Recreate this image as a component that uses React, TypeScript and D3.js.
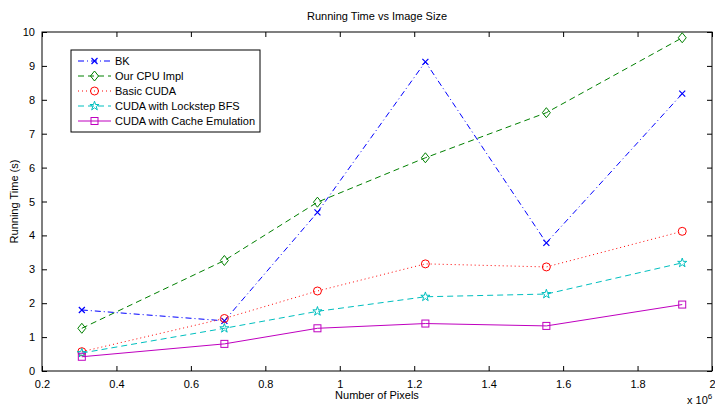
import React, { useRef, useEffect } from "react";
import * as d3 from "d3";

// x values in units of 1e6 pixels
const pixels = [0.307, 0.69, 0.94, 1.23, 1.555, 1.92];
const bk = [1.8, 1.48, 4.68, 9.12, 3.78, 8.18];
const cpuImpl = [1.26, 3.26, 4.98, 6.29, 7.62, 9.83];
const basicCuda = [0.57, 1.55, 2.36, 3.16, 3.07, 4.12];
const lockstep = [0.53, 1.26, 1.76, 2.19, 2.27, 3.19];
const cacheEmu = [0.42, 0.8, 1.26, 1.4, 1.33, 1.96];

const xTicks = [0.2, 0.4, 0.6, 0.8, 1, 1.2, 1.4, 1.6, 1.8, 2];
const yTicks = [0, 1, 2, 3, 4, 5, 6, 7, 8, 9, 10];

const seriesList = [
  { name: "BK", values: bk, color: "#0000ff", dash: "6,3,1,3", marker: "x" },
  { name: "Our CPU Impl", values: cpuImpl, color: "#008000", dash: "6,4", marker: "diamond" },
  { name: "Basic CUDA", values: basicCuda, color: "#ff0000", dash: "1,3", marker: "circle" },
  { name: "CUDA with Lockstep BFS", values: lockstep, color: "#00bfbf", dash: "6,4", marker: "star" },
  { name: "CUDA with Cache Emulation", values: cacheEmu, color: "#bf00bf", dash: null, marker: "square" },
];

function drawMarker(g, type, cx, cy, color) {
  if (type === "x") {
    g.append("path")
      .attr("d", `M${cx - 3},${cy - 3}L${cx + 3},${cy + 3}M${cx - 3},${cy + 3}L${cx + 3},${cy - 3}`)
      .attr("stroke", color).attr("stroke-width", 1.2).attr("fill", "none");
  } else if (type === "diamond") {
    g.append("path")
      .attr("d", `M${cx},${cy - 5}L${cx + 4},${cy}L${cx},${cy + 5}L${cx - 4},${cy}Z`)
      .attr("stroke", color).attr("stroke-width", 1).attr("fill", "none");
  } else if (type === "circle") {
    g.append("circle").attr("cx", cx).attr("cy", cy).attr("r", 4)
      .attr("stroke", color).attr("stroke-width", 1).attr("fill", "none");
  } else if (type === "star") {
    g.append("path")
      .attr("d", d3.symbol(d3.symbolStar, 26)())
      .attr("transform", `translate(${cx},${cy})`)
      .attr("stroke", color).attr("stroke-width", 1).attr("fill", "none");
  } else if (type === "square") {
    g.append("rect").attr("x", cx - 3.5).attr("y", cy - 3.5).attr("width", 7).attr("height", 7)
      .attr("stroke", color).attr("stroke-width", 1).attr("fill", "none");
  }
}

function App() {
  const svgRef = useRef(null);

  useEffect(() => {
    const width = 715;
    const height = 406;
    const margin = { top: 32, right: 3, bottom: 35, left: 42 };
    const font = "'Liberation Sans', Arial, sans-serif";

    const svg = d3.select(svgRef.current);
    svg.selectAll("*").remove();

    const x = d3.scaleLinear().domain([0.2, 2]).range([margin.left, width - margin.right]);
    const y = d3.scaleLinear().domain([0, 10]).range([height - margin.bottom, margin.top]);

    svg.append("rect").attr("width", width).attr("height", height).attr("fill", "white");

    // Axes (MATLAB style: ticks inside, box)
    const fmt = (d) => d3.format("~g")(d);
    svg.append("g")
      .attr("transform", `translate(0,${y(0)})`)
      .call(d3.axisBottom(x).tickValues(xTicks).tickSize(-5).tickPadding(9).tickFormat(fmt))
      .call((g) => g.select(".domain").remove());
    svg.append("g")
      .attr("transform", `translate(0,${y(10)})`)
      .call(d3.axisTop(x).tickValues(xTicks).tickSize(-5).tickFormat(() => ""))
      .call((g) => g.select(".domain").remove());
    svg.append("g")
      .attr("transform", `translate(${x(0.2)},0)`)
      .call(d3.axisLeft(y).tickValues(yTicks).tickSize(-5).tickPadding(7))
      .call((g) => g.select(".domain").remove());
    svg.append("g")
      .attr("transform", `translate(${x(2)},0)`)
      .call(d3.axisRight(y).tickValues(yTicks).tickSize(-5).tickFormat(() => ""))
      .call((g) => g.select(".domain").remove());

    svg.selectAll(".tick line").attr("stroke", "#000").attr("stroke-width", 1);
    svg.selectAll(".tick text").attr("font-family", font).attr("font-size", 11).attr("fill", "#000");

    svg.append("rect")
      .attr("x", x(0.2)).attr("y", y(10))
      .attr("width", x(2) - x(0.2)).attr("height", y(0) - y(10))
      .attr("fill", "none").attr("stroke", "#000").attr("stroke-width", 1);

    // Series
    const line = d3.line().x((d) => x(d[0])).y((d) => y(d[1]));
    seriesList.forEach((s) => {
      const pts = pixels.map((p, i) => [p, s.values[i]]);
      svg.append("path")
        .datum(pts)
        .attr("d", line)
        .attr("fill", "none")
        .attr("stroke", s.color)
        .attr("stroke-width", 1)
        .attr("stroke-dasharray", s.dash);
      const mg = svg.append("g");
      pts.forEach((p) => drawMarker(mg, s.marker, x(p[0]), y(p[1]), s.color));
    });

    // Title and labels
    svg.append("text")
      .attr("x", (x(0.2) + x(2)) / 2).attr("y", 20)
      .attr("text-anchor", "middle").attr("font-family", font).attr("font-size", 11)
      .text("Running Time vs Image Size");
    svg.append("text")
      .attr("x", (x(0.2) + x(2)) / 2).attr("y", 399)
      .attr("text-anchor", "middle").attr("font-family", font).attr("font-size", 11)
      .text("Number of Pixels");
    svg.append("text")
      .attr("transform", `translate(18,${(y(0) + y(10)) / 2}) rotate(-90)`)
      .attr("text-anchor", "middle").attr("font-family", font).attr("font-size", 11)
      .text("Running Time (s)");
    const exp = svg.append("text")
      .attr("x", 687).attr("y", 404).attr("font-family", font).attr("font-size", 11);
    exp.append("tspan").text("x 10");
    exp.append("tspan").attr("dy", -5).attr("font-size", 8).text("6");

    // Legend
    const lg = svg.append("g").attr("transform", "translate(71,50)");
    lg.append("rect").attr("width", 189).attr("height", 82)
      .attr("fill", "white").attr("stroke", "#000").attr("stroke-width", 1);
    seriesList.forEach((s, i) => {
      const ly = 11 + i * 15;
      lg.append("line")
        .attr("x1", 7).attr("x2", 40).attr("y1", ly).attr("y2", ly)
        .attr("stroke", s.color).attr("stroke-width", 1)
        .attr("stroke-dasharray", s.dash);
      drawMarker(lg, s.marker, 23.5, ly, s.color);
      lg.append("text")
        .attr("x", 44).attr("y", ly + 4)
        .attr("font-family", font).attr("font-size", 11)
        .text(s.name);
    });
  }, []);

  return (
    <svg
      ref={svgRef}
      width={715}
      height={406}
      style={{ position: "absolute", left: 0, top: 0 }}
    ></svg>
  );
}

export default App;
